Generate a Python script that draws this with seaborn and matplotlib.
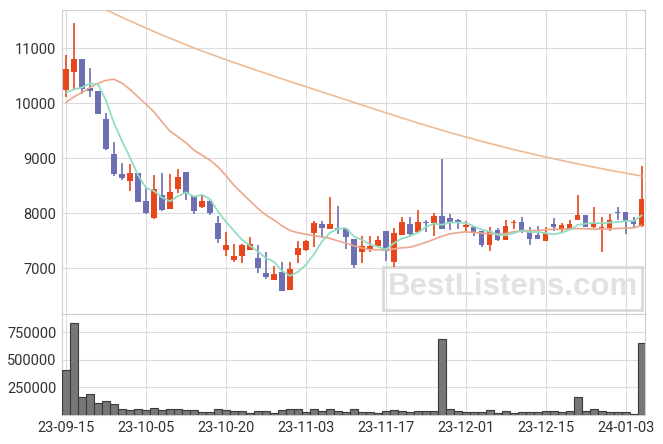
import pandas as pd
import matplotlib
matplotlib.use("Agg")
import matplotlib.pyplot as plt
from matplotlib import ticker
from matplotlib.patches import Rectangle
import seaborn as sns

# x tick labels (every 10 trading days)
tick_pos = [0, 10, 20, 30, 40, 50, 60, 70]
tick_labels = ["23-09-15", "23-10-05", "23-10-20", "23-11-03",
               "23-11-17", "23-12-01", "23-12-15", "24-01-03"]

# daily candles
opens = [10250, 10575, 10800, 10280, 10220, 9710, 9080, 8710, 8590, 8730,
         8220, 7910, 8330, 8080, 8450, 8750, 8310, 8110, 8220, 7820,
         7340, 7150, 7230, 7340, 7190, 6920, 6790, 6930, 6610, 7250,
         7340, 7640, 7810, 7720, 7740, 7720, 7530, 7290, 7340, 7400,
         7680, 7120, 7610, 7810, 7660, 7840, 7820, 7950, 7910, 7880,
         7750, 7760, 7680, 7420, 7700, 7520, 7820, 7840, 7680, 7610,
         7500, 7810, 7700, 7700, 7880, 7970, 7750, 7730, 7730, 8020,
         8020, 7880, 7770]
highs = [10890, 11470, 10800, 10650, 10220, 9820, 9300, 8910, 8890, 8730,
         8480, 8700, 8730, 8710, 8800, 8750, 8310, 8360, 8250, 7960,
         7660, 7450, 7440, 7570, 7430, 7300, 7040, 7120, 7120, 7490,
         7520, 7870, 7860, 8300, 8140, 7720, 7530, 7590, 7590, 7590,
         7680, 7730, 7930, 7930, 8060, 7880, 8010, 8990, 7990, 7900,
         7860, 7760, 7680, 7750, 7730, 7880, 7880, 7930, 7750, 7770,
         7750, 7920, 7820, 7880, 8330, 7970, 8120, 7930, 7990, 8110,
         8020, 7930, 8860]
lows = [10120, 10240, 10170, 10120, 9800, 9150, 8680, 8600, 8410, 8200,
        7990, 7900, 8050, 8080, 8380, 8240, 7980, 8100, 7970, 7470,
        7230, 7120, 7100, 7340, 6920, 6810, 6790, 6580, 6610, 7100,
        7320, 7380, 7560, 7720, 7620, 7350, 7010, 7100, 7300, 7380,
        7130, 7030, 7610, 7590, 7640, 7660, 7590, 7720, 7700, 7720,
        7680, 7590, 7380, 7310, 7500, 7520, 7720, 7640, 7420, 7530,
        7500, 7680, 7660, 7700, 7880, 7750, 7740, 7290, 7680, 7880,
        7620, 7730, 7750]
closes = [10620, 10800, 10270, 10230, 9810, 9180, 8720, 8650, 8730, 8210,
          8010, 8440, 8060, 8390, 8660, 8370, 8050, 8220, 8000, 7540,
          7430, 7230, 7420, 7440, 7010, 6840, 6900, 6580, 6990, 7370,
          7500, 7830, 7740, 7810, 7720, 7570, 7070, 7410, 7410, 7515,
          7310, 7640, 7840, 7620, 7840, 7830, 7950, 7720, 7840, 7830,
          7790, 7640, 7420, 7680, 7510, 7770, 7830, 7660, 7530, 7530,
          7640, 7750, 7790, 7810, 7970, 7750, 7820, 7750, 7880, 8010,
          7860, 7810, 8260]
volumes = [410000, 840000, 162000, 192000, 108000, 123000, 99000, 50000, 41000, 59000,
           41000, 68000, 41000, 59000, 50000, 41000, 41000, 23000, 23000, 59000,
           41000, 32000, 32000, 14000, 32000, 32000, 14000, 41000, 50000, 50000,
           23000, 50000, 32000, 50000, 32000, 23000, 59000, 23000, 23000, 14000,
           32000, 41000, 32000, 23000, 32000, 32000, 32000, 695000, 50000, 32000,
           23000, 23000, 23000, 41000, 14000, 32000, 14000, 23000, 23000, 23000,
           32000, 32000, 23000, 32000, 166000, 32000, 59000, 32000, 23000, 23000,
           23000, 10000, 653000]

# moving averages before enough history is on screen
ma5_head = [10200, 10255, 10291, 10364]
ma20_head = [10018, 10120, 10200, 10291, 10364, 10420, 10440, 10370, 10255, 10120,
             9987, 9847, 9666, 9497, 9393, 9284, 9151, 9060, 8969]
# long moving average, sampled along the line
ma_long_idx = [0, 4, 8, 12, 16, 20, 24, 28, 32, 36, 40, 44, 48, 52, 56,
               60, 64, 68, 72]
ma_long = [12050, 11770, 11500, 11245, 11010, 10795, 10595, 10400, 10210,
           10020, 9830, 9645, 9470, 9310, 9160, 9025, 8900, 8785, 8680]

up_color = "#e8471c"
down_color = "#6c70b2"

df = pd.DataFrame({"open": opens, "high": highs, "low": lows,
                   "close": closes, "volume": volumes})
df["idx"] = range(len(df))
df["ma5"] = df["close"].rolling(5).mean()
df.loc[:len(ma5_head) - 1, "ma5"] = ma5_head
df["ma20"] = df["close"].rolling(20).mean()
df.loc[:len(ma20_head) - 1, "ma20"] = ma20_head
long_df = pd.DataFrame({"idx": ma_long_idx, "ma": ma_long})

sns.set_theme(style="whitegrid")
plt.rcParams['font.family'] = ['Roboto', 'DejaVu Sans']

fig = plt.figure(figsize=(6.63, 4.44), dpi=100)
W, H = 663, 444
ax = fig.add_axes([62 / W, 1 - 314 / H, 583 / W, 304 / H])
axv = fig.add_axes([62 / W, 1 - 415 / H, 583 / W, 101 / H], sharex=ax)

# watermark
ax.add_patch(Rectangle((0.5506, 0.013), 0.444, 0.141, transform=ax.transAxes,
                       fill=False, edgecolor="#d9d9d9", lw=2, zorder=1))
ax.text(0.773, 0.088, "BestListens.com", transform=ax.transAxes,
        ha="center", va="center", fontsize=22.5, fontweight="bold",
        family="Liberation Sans", color="#e2e2e2", zorder=1)

# candles
is_up = df["close"] >= df["open"]
colors = [up_color if u else down_color for u in is_up]
body_low = df[["open", "close"]].min(axis=1)
body_h = (df["close"] - df["open"]).abs().clip(lower=18)
ax.vlines(df["idx"], df["low"], df["high"], colors=colors, lw=1.2, zorder=2)
ax.bar(df["idx"], body_h, bottom=body_low, width=0.66, color=colors,
       linewidth=0, zorder=3)

# moving averages
sns.lineplot(data=long_df, x="idx", y="ma", ax=ax, color="#efbb92", lw=1.2, zorder=4)
sns.lineplot(data=df, x="idx", y="ma20", ax=ax, color="#eda68b", lw=1.2, zorder=4)
sns.lineplot(data=df, x="idx", y="ma5", ax=ax, color="#94dcc3", lw=1.3, zorder=4)

ax.set_ylim(6170, 11700)
ax.set_yticks([7000, 8000, 9000, 10000, 11000])
ax.set_xlim(-0.5, 72.4)
ax.set_xlabel("")
ax.set_ylabel("")
ax.tick_params(axis="x", labelbottom=False)

# volume
sns.barplot(data=df, x="idx", y="volume", ax=axv, native_scale=True,
            color="#777777", saturation=1, width=1,
            edgecolor="#3a3a3a", linewidth=0.8, zorder=3)
axv.set_xlim(-0.5, 72.4)
axv.set_ylim(0, 918000)
axv.set_yticks([250000, 500000, 750000])
axv.yaxis.set_major_formatter(ticker.FuncFormatter(lambda v, p: f"{int(v)}"))
axv.set_xticks(tick_pos)
axv.set_xticklabels(tick_labels)
axv.set_xlabel("")
axv.set_ylabel("")

for a in (ax, axv):
    a.grid(True, color="#dcdcdc", lw=0.8)
    a.set_axisbelow(True)
    a.tick_params(length=0, labelsize=10.5, colors="#333333", pad=4)
    for s in a.spines.values():
        s.set_color("#cfcfcf")
        s.set_linewidth(0.8)

fig.savefig("out.png", dpi=100)
